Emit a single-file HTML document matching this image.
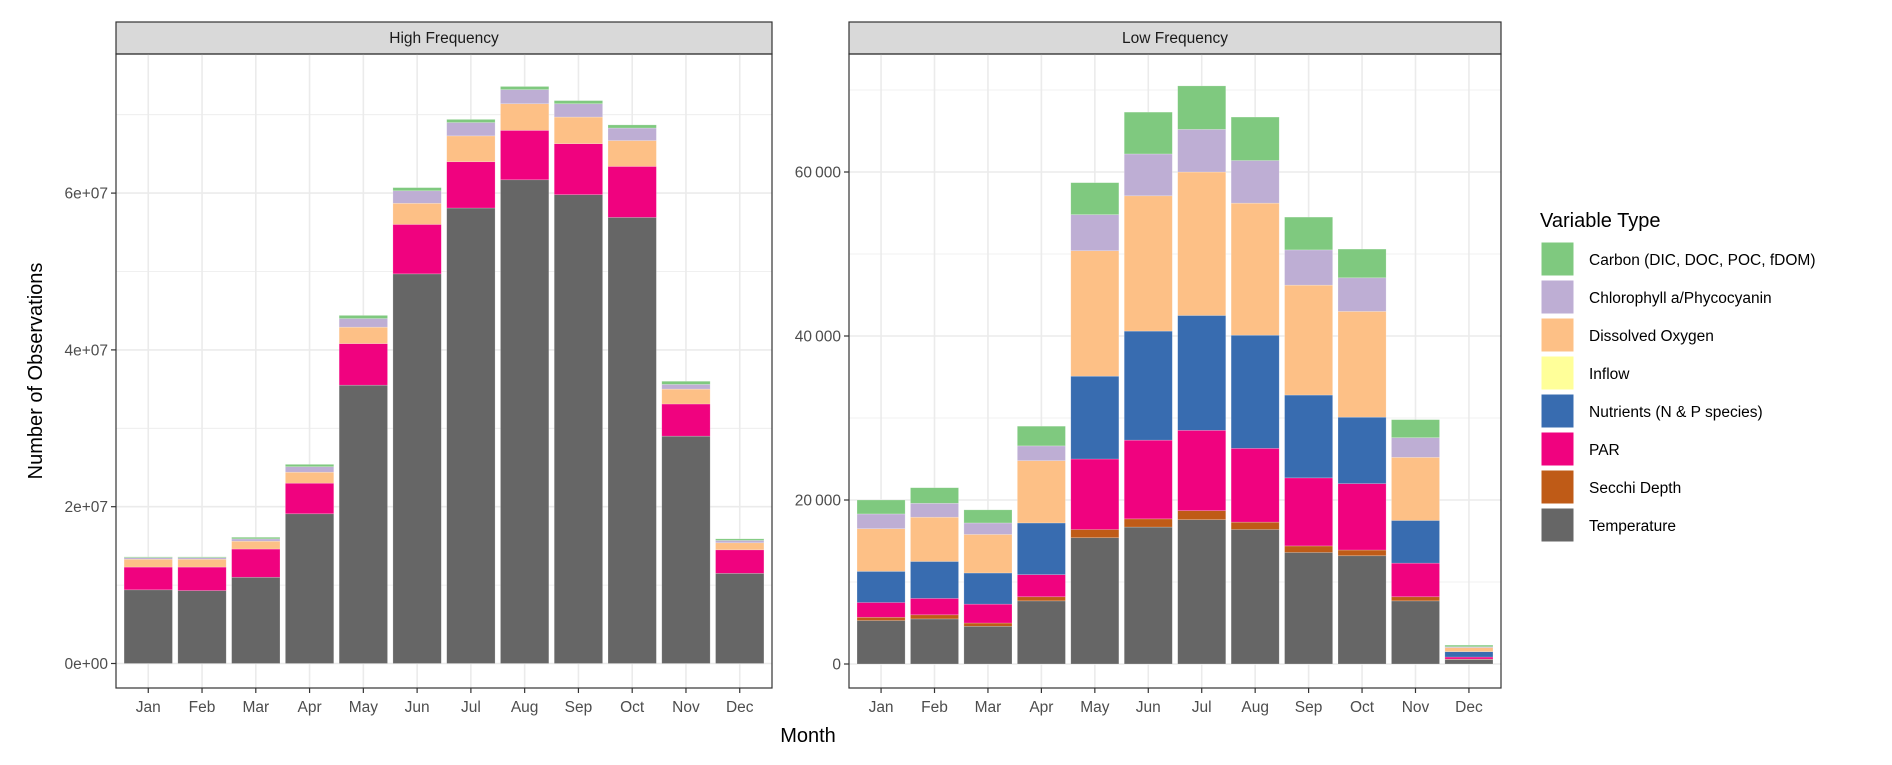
<!DOCTYPE html>
<html><head><meta charset="utf-8">
<style>
html,body{margin:0;padding:0;background:#fff;}
svg{display:block;font-family:"Liberation Sans",sans-serif;}
</style></head>
<body>
<svg id="chart" width="1892" height="765" viewBox="0 0 1892 765"></svg>
<script>
const months = ["Jan","Feb","Mar","Apr","May","Jun","Jul","Aug","Sep","Oct","Nov","Dec"];
const seriesNames = ["Temperature","Secchi Depth","PAR","Nutrients (N & P species)","Inflow","Dissolved Oxygen","Chlorophyll a/Phycocyanin","Carbon (DIC, DOC, POC, fDOM)"];
const seriesColors = ["#666666","#BF5B17","#F0027F","#386CB0","#FFFF99","#FDC086","#BEAED4","#7FC97F"];
// High frequency (millions), per series
const hfTemp   = [9.4,9.3,11.0,19.1,35.5,49.7,58.1,61.7,59.8,56.9,29.0,11.5];
const hfSecchi = [0,0,0,0,0,0,0,0,0,0,0,0];
const hfPAR    = [2.9,3.0,3.6,3.9,5.3,6.3,5.9,6.3,6.5,6.5,4.1,3.0];
const hfNut    = [0,0,0,0,0,0,0,0,0,0,0,0];
const hfInflow = [0,0,0,0,0,0,0,0,0,0,0,0];
const hfDO     = [1.0,1.0,1.0,1.4,2.1,2.7,3.3,3.4,3.4,3.3,1.9,0.9];
const hfChl    = [0.2,0.2,0.3,0.7,1.1,1.6,1.7,1.8,1.7,1.6,0.6,0.3];
const hfCarbon = [0.1,0.1,0.2,0.3,0.4,0.4,0.4,0.4,0.4,0.4,0.4,0.2];
// Low frequency (thousands), per series
const lfTemp   = [5.3,5.5,4.6,7.7,15.4,16.7,17.6,16.4,13.6,13.2,7.7,0.55];
const lfSecchi = [0.4,0.5,0.4,0.5,1.0,1.0,1.1,0.9,0.8,0.7,0.5,0.05];
const lfPAR    = [1.8,2.0,2.3,2.7,8.6,9.6,9.8,9.0,8.3,8.1,4.1,0.25];
const lfNut    = [3.8,4.5,3.8,6.3,10.1,13.3,14.0,13.8,10.1,8.1,5.2,0.65];
const lfInflow = [0,0,0,0,0,0,0,0,0,0,0,0];
const lfDO     = [5.2,5.4,4.7,7.6,15.3,16.5,17.5,16.1,13.4,12.9,7.7,0.5];
const lfChl    = [1.8,1.7,1.4,1.8,4.4,5.1,5.2,5.2,4.3,4.1,2.4,0.1];
const lfCarbon = [1.7,1.9,1.6,2.4,3.9,5.1,5.3,5.3,4.0,3.5,2.2,0.2];
const hfTicks = [0,20,40,60];
const hfTickLabels = ["0e+00","2e+07","4e+07","6e+07"];
const lfTicks = [0,20,40,60];
const lfTickLabels = ["0","20\u2009000","40\u2009000","60\u2009000"];

const NS="http://www.w3.org/2000/svg";
const svg=document.getElementById('chart');
function mk(tag,attrs,parent){const e=document.createElementNS(NS,tag);for(const k in attrs)e.setAttribute(k,attrs[k]);(parent||svg).appendChild(e);return e;}

function panel(cfg){
  const g=mk('g',{});
  
  
  const {x0,x1,yTop,yBot,zeroY,pxPerUnit}=cfg;
  const yS=v=>zeroY-v*pxPerUnit;
  const unit=(x1-x0)/12.2;
  const xS=i=>x0+(i+0.6)*unit;
  // strip
  const st=mk('rect',{x:x0,y:22,width:x1-x0,height:yTop-22,fill:"#d9d9d9",stroke:"#333",'stroke-width':1.2},g);
  
  
  const stt=mk('text',{x:(x0+x1)/2,y:43,'text-anchor':'middle','font-size':15.5,fill:"#1a1a1a"},g);
  stt.textContent=cfg.title;
  
  
  // grid
  const clipTop=yTop, clipBot=yBot;
  for(let t=0;t<cfg.ticks.length;t++){
    const y=yS(cfg.ticks[t]);
    mk('line',{x1:x0,x2:x1,y1:y,y2:y,stroke:"#ebebeb",'stroke-width':1.6},g);
    const ym=yS(cfg.ticks[t]+10);
    if(ym>clipTop) mk('line',{x1:x0,x2:x1,y1:ym,y2:ym,stroke:"#ebebeb",'stroke-width':0.8},g);
  }
  const ymneg=yS(-10); if(ymneg<clipBot) mk('line',{x1:x0,x2:x1,y1:ymneg,y2:ymneg,stroke:"#ebebeb",'stroke-width':0.8},g);
  for(let i=0;i<12;i++){
    mk('line',{x1:xS(i),x2:xS(i),y1:yTop,y2:yBot,stroke:"#ebebeb",'stroke-width':1.6},g);
  }
  // bars
  const bw=unit*0.9;
  for(let i=0;i<12;i++){
    let cum=0;
    for(let s=0;s<cfg.series.length;s++){
      const v=cfg.series[s][i];
      if(v<=0) continue;
      const yt=yS(cum+v), yb=yS(cum);
      const r=mk('rect',{x:xS(i)-bw/2,y:yt,width:bw,height:Math.max(yb-yt,0.3),fill:seriesColors[s],stroke:"#ffffff",'stroke-opacity':0.35,'stroke-width':0.6},g);
      
      
      cum+=v;
    }
  }
  // border
  mk('rect',{x:x0,y:yTop,width:x1-x0,height:yBot-yTop,fill:"none",stroke:"#333",'stroke-width':1.2},g);
  // y ticks
  for(let t=0;t<cfg.ticks.length;t++){
    const y=yS(cfg.ticks[t]);
    mk('line',{x1:x0-5,x2:x0,y1:y,y2:y,stroke:"#333",'stroke-width':1.2},g);
    const tx=mk('text',{x:x0-8,y:y+5.5,'text-anchor':'end','font-size':15.5,fill:"#4d4d4d"},g);
    tx.textContent=cfg.tickLabels[t];
    
    
  }
  // x ticks
  for(let i=0;i<12;i++){
    mk('line',{x1:xS(i),x2:xS(i),y1:yBot,y2:yBot+5,stroke:"#333",'stroke-width':1.2},g);
    const tx=mk('text',{x:xS(i),y:yBot+24,'text-anchor':'middle','font-size':15.5,fill:"#4d4d4d"},g);
    tx.textContent=months[i];
    
    
  }
}

panel({name:'high-frequency-panel',short:'hf',title:'High Frequency',x0:116,x1:772,yTop:54,yBot:688,zeroY:663.5,pxPerUnit:156.8/20,
  series:[hfTemp,hfSecchi,hfPAR,hfNut,hfInflow,hfDO,hfChl,hfCarbon],ticks:hfTicks,tickLabels:hfTickLabels});
panel({name:'low-frequency-panel',short:'lf',title:'Low Frequency',x0:849,x1:1501,yTop:54,yBot:688,zeroY:664,pxPerUnit:164/20,
  series:[lfTemp,lfSecchi,lfPAR,lfNut,lfInflow,lfDO,lfChl,lfCarbon],ticks:lfTicks,tickLabels:lfTickLabels});

// axis titles
const xt=mk('text',{x:808,y:742,'text-anchor':'middle','font-size':20,fill:"#000"});
xt.textContent='Month';


const yt=mk('text',{x:0,y:0,'text-anchor':'middle','font-size':20,fill:"#000",transform:'translate(42,371) rotate(-90)'});
yt.textContent='Number of Observations';



// legend
const lg=mk('g',{});


const lt=mk('text',{x:1540,y:227,'font-size':20,fill:"#000"},lg);
lt.textContent='Variable Type';


const legOrder=[7,6,5,4,3,2,1,0];
for(let k=0;k<legOrder.length;k++){
  const s=legOrder[k];
  const y=242+k*38;
  const r=mk('rect',{x:1541,y:y,width:33,height:34,fill:seriesColors[s],stroke:"#fff",'stroke-width':1},lg);
  
  
  const t=mk('text',{x:1589,y:y+23,'font-size':15.5,fill:"#000"},lg);
  t.textContent=seriesNames[s];
  
  
}
</script>
</body></html>
